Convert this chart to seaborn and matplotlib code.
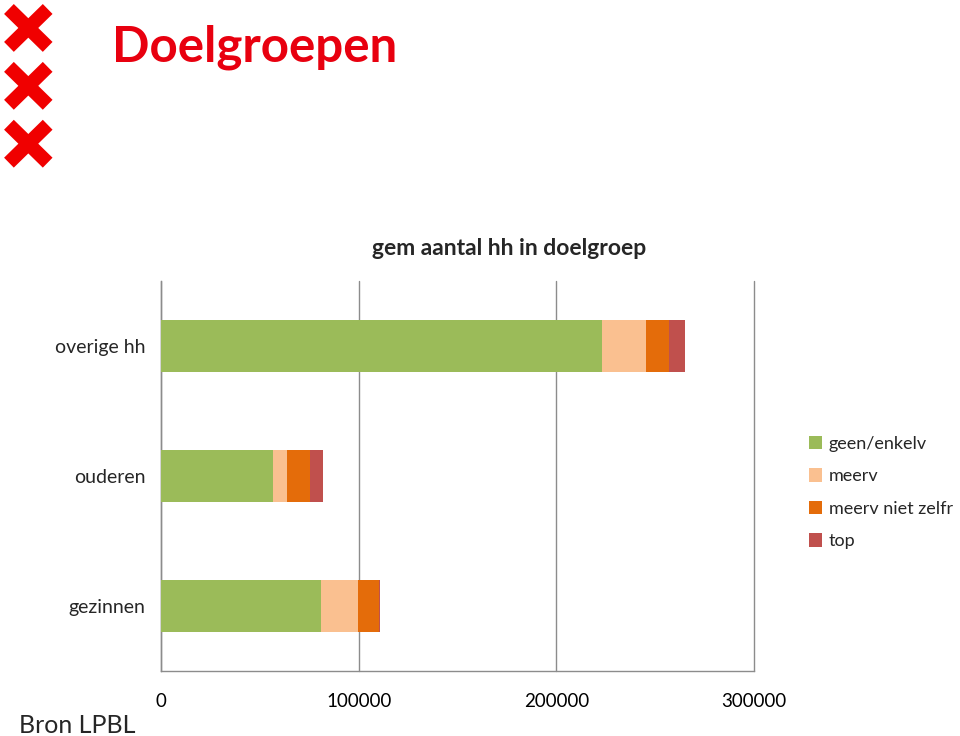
import pandas as pd
import matplotlib.pyplot as plt
import seaborn as sns
from matplotlib.patches import Patch
from matplotlib.ticker import FixedLocator

# data
groups = ['overige hh', 'ouderen', 'gezinnen']
segments = ['geen/enkelv', 'meerv', 'meerv niet zelfr', 'top']
geen_enkelv = [223000, 56700, 80900]
meerv = [22300, 7000, 18800]
meerv_niet_zelfr = [11600, 11700, 10600]
top = [8100, 6600, 600]
colors = ['#9BBB59', '#FAC090', '#E46C0A', '#C0504D']

df = pd.DataFrame({'groep': groups, 'geen/enkelv': geen_enkelv, 'meerv': meerv,
                   'meerv niet zelfr': meerv_niet_zelfr, 'top': top})
cum = df[segments].cumsum(axis=1)
cum['groep'] = df['groep']

sns.set_style('white')
plt.rcParams['font.family'] = ['Lato', 'DejaVu Sans']

fig = plt.figure(figsize=(9.6, 7.36), dpi=100)
ax = fig.add_axes([0.1677, 0.0883, 0.6177, 0.5297])

# stacked bars: draw cumulative totals from largest to smallest
for seg, col in reversed(list(zip(segments, colors))):
    sns.barplot(data=cum, x=seg, y='groep', order=groups, color=col,
                width=0.4, saturation=1, linewidth=0, ax=ax, zorder=3)

ax.set_xlim(0, 300000)
ax.set_ylim(2.5, -0.5)
ax.set_xticks([0, 100000, 200000, 300000])
ax.set_xticklabels(['0', '100000', '200000', '300000'])
ax.xaxis.grid(True, color='#8c8c8c', linewidth=1, zorder=0)
for gl in ax.get_xgridlines():
    gl.set_clip_on(False)
ax.set_axisbelow(True)
ax.set_xlabel('')
ax.set_ylabel('')
ax.tick_params(axis='x', length=0, labelsize=13.5, pad=16, colors='black')
ax.tick_params(axis='y', which='major', length=0, labelsize=14, pad=11)
ax.yaxis.set_minor_locator(FixedLocator([-0.5, 0.5, 1.5, 2.5]))
ax.tick_params(axis='y', which='minor', length=6, color='#8c8c8c', width=1)
for s in ['top', 'right']:
    ax.spines[s].set_visible(False)
for s in ['left', 'bottom']:
    ax.spines[s].set_color('#8c8c8c')
    ax.spines[s].set_linewidth(1)

fig.text(0.530, 0.663, 'gem aantal hh in doelgroep', fontsize=16.5,
         fontweight='bold', ha='center', va='center')

handles = [Patch(facecolor=c, edgecolor='none') for c in colors]
fig.legend(handles, segments, loc='upper left', bbox_to_anchor=(0.835, 0.418),
           frameon=False, fontsize=13, handlelength=0.75, handleheight=0.75,
           handletextpad=0.35, labelspacing=0.92, borderaxespad=0)

fig.text(0.117, 0.936, 'Doelgroepen', color='#E8000F', fontsize=35.5,
         fontweight='bold', va='center', ha='left')
fig.text(0.02, -0.002, 'Bron LPBL', fontsize=18, ha='left', va='bottom')

# three red crosses (Amsterdam logo)
lx = fig.add_axes([0.0, 0.76, 0.06, 0.24])
lx.set_xlim(0, 58)
lx.set_ylim(177, 0)
lx.axis('off')
for yc in [28, 86, 144]:
    lx.plot([9, 48], [yc - 19, yc + 19], color='#F00000', lw=10, solid_capstyle='butt')
    lx.plot([9, 48], [yc + 19, yc - 19], color='#F00000', lw=10, solid_capstyle='butt')

fig.savefig('out.png', dpi=100)
